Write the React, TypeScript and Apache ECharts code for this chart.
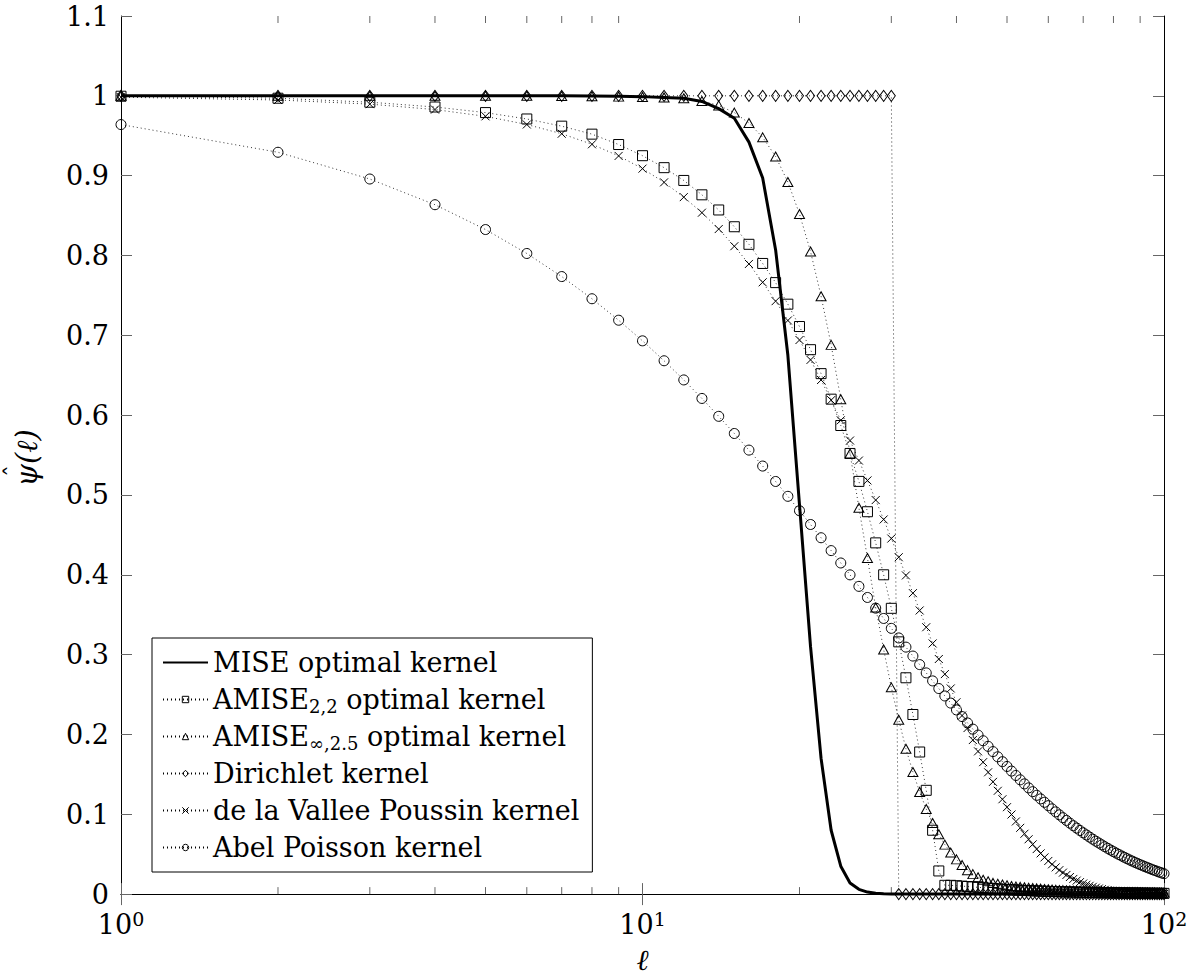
import React, { useEffect, useRef } from "react";
import * as echarts from "echarts";

const ells = Array.from({ length: 100 }, (_, i) => i + 1);

const miseVals = [
  1, 1, 1, 1, 1, 1, 1, 0.9998, 0.9995, 0.999,
  0.998, 0.997, 0.993, 0.984, 0.972, 0.942, 0.897, 0.807, 0.675, 0.488,
  0.31, 0.17, 0.08, 0.035, 0.014, 0.006, 0.0025, 0.001, 0.0005, 0.0002,
  0, 0, 0, 0, 0, 0, 0, 0, 0, 0,
  0, 0, 0, 0, 0, 0, 0, 0, 0, 0,
  0, 0, 0, 0, 0, 0, 0, 0, 0, 0,
  0, 0, 0, 0, 0, 0, 0, 0, 0, 0,
  0, 0, 0, 0, 0, 0, 0, 0, 0, 0,
  0, 0, 0, 0, 0, 0, 0, 0, 0, 0,
  0, 0, 0, 0, 0, 0, 0, 0, 0, 0,
];

const amise22Vals = [
  0.9995, 0.997, 0.992, 0.986, 0.979, 0.971, 0.962, 0.952, 0.939, 0.925,
  0.91, 0.894, 0.876, 0.857, 0.836, 0.814, 0.79, 0.766, 0.739, 0.711,
  0.682, 0.652, 0.62, 0.587, 0.552, 0.517, 0.479, 0.44, 0.4, 0.358,
  0.316, 0.271, 0.225, 0.178, 0.13, 0.08, 0.029, 0.011, 0.011, 0.0105,
  0.01, 0.0095, 0.009, 0.0085, 0.008, 0.0075, 0.007, 0.0066, 0.0062, 0.0058,
  0.0055, 0.0052, 0.0049, 0.0046, 0.0044, 0.0042, 0.004, 0.0038, 0.0036, 0.0034,
  0.0032, 0.0031, 0.003, 0.0029, 0.0028, 0.0027, 0.0026, 0.0025, 0.0024, 0.0023,
  0.0022, 0.0021, 0.002, 0.002, 0.0019, 0.0018, 0.0018, 0.0017, 0.0017, 0.0016,
  0.0016, 0.0015, 0.0015, 0.0014, 0.0014, 0.0014, 0.0013, 0.0013, 0.0012, 0.0012,
  0.0012, 0.0011, 0.0011, 0.0011, 0.001, 0.001, 0.001, 0.001, 0.0009, 0.0009,
];

const amiseInfVals = [
  1, 1, 1, 1, 1, 1, 0.9998, 0.9995, 0.999, 0.9985,
  0.998, 0.997, 0.9935, 0.988, 0.979, 0.966, 0.948, 0.924, 0.892, 0.852,
  0.805, 0.749, 0.688, 0.62, 0.552, 0.484, 0.421, 0.359, 0.3065, 0.259,
  0.2185, 0.182, 0.153, 0.128, 0.1065, 0.089, 0.075, 0.062, 0.052, 0.0435,
  0.0365, 0.03, 0.025, 0.021, 0.018, 0.016, 0.014, 0.013, 0.012, 0.011,
  0.0102, 0.0095, 0.009, 0.0085, 0.008, 0.0076, 0.0072, 0.0068, 0.0064, 0.006,
  0.0057, 0.0054, 0.0052, 0.005, 0.0048, 0.0046, 0.0044, 0.0042, 0.004, 0.0038,
  0.0037, 0.0036, 0.0035, 0.0034, 0.0033, 0.0032, 0.0031, 0.003, 0.003, 0.0029,
  0.0028, 0.0028, 0.0027, 0.0026, 0.0026, 0.0025, 0.0025, 0.0024, 0.0024, 0.0023,
  0.0023, 0.0022, 0.0022, 0.0022, 0.0021, 0.0021, 0.002, 0.002, 0.002, 0.002,
];

const dirichletVals = [
  1, 1, 1, 1, 1, 1, 1, 1, 1, 1,
  1, 1, 1, 1, 1, 1, 1, 1, 1, 1,
  1, 1, 1, 1, 1, 1, 1, 1, 1, 1,
  0, 0, 0, 0, 0, 0, 0, 0, 0, 0,
  0, 0, 0, 0, 0, 0, 0, 0, 0, 0,
  0, 0, 0, 0, 0, 0, 0, 0, 0, 0,
  0, 0, 0, 0, 0, 0, 0, 0, 0, 0,
  0, 0, 0, 0, 0, 0, 0, 0, 0, 0,
  0, 0, 0, 0, 0, 0, 0, 0, 0, 0,
  0, 0, 0, 0, 0, 0, 0, 0, 0, 0,
];

const poussinVals = [
  0.9983, 0.9948, 0.9896, 0.9828, 0.9743, 0.9641, 0.9525, 0.9393, 0.9247, 0.9088,
  0.8916, 0.8731, 0.8536, 0.8331, 0.8116, 0.7894, 0.7664, 0.7428, 0.7186, 0.6941,
  0.6692, 0.644, 0.6188, 0.5935, 0.5682, 0.5431, 0.5182, 0.4936, 0.4693, 0.4454,
  0.422, 0.3992, 0.377, 0.3553, 0.3343, 0.314, 0.2945, 0.2756, 0.2576, 0.2403,
  0.2237, 0.208, 0.193, 0.1788, 0.1653, 0.1526, 0.1406, 0.1294, 0.1188, 0.1089,
  0.0997, 0.091, 0.083, 0.0756, 0.0687, 0.0623, 0.0564, 0.051, 0.046, 0.0415,
  0.0373, 0.0335, 0.03, 0.0269, 0.024, 0.0214, 0.019, 0.0169, 0.015, 0.0133,
  0.0117, 0.0104, 0.0091, 0.008, 0.007, 0.0062, 0.0054, 0.0047, 0.0041, 0.0036,
  0.0031, 0.0027, 0.0023, 0.002, 0.0017, 0.0015, 0.0013, 0.0011, 0.0009, 0.0008,
  0.0007, 0.0006, 0.0005, 0.0004, 0.0004, 0.0003, 0.0003, 0.0002, 0.0002, 0.0002,
];

const abelVals = [
  0.964, 0.9293, 0.8958, 0.8636, 0.8325, 0.8025, 0.7736, 0.7458, 0.7189, 0.6931,
  0.6681, 0.6441, 0.6209, 0.5985, 0.577, 0.5562, 0.5362, 0.5169, 0.4983, 0.4803,
  0.463, 0.4464, 0.4303, 0.4148, 0.3999, 0.3855, 0.3716, 0.3582, 0.3453, 0.3329,
  0.3209, 0.3094, 0.2982, 0.2875, 0.2771, 0.2671, 0.2575, 0.2482, 0.2393, 0.2307,
  0.2224, 0.2144, 0.2067, 0.1992, 0.1921, 0.1851, 0.1785, 0.172, 0.1659, 0.1599,
  0.1541, 0.1486, 0.1432, 0.1381, 0.1331, 0.1283, 0.1237, 0.1193, 0.115, 0.1108,
  0.1068, 0.103, 0.0993, 0.0957, 0.0923, 0.0889, 0.0857, 0.0827, 0.0797, 0.0768,
  0.0741, 0.0714, 0.0688, 0.0663, 0.064, 0.0617, 0.0594, 0.0573, 0.0552, 0.0532,
  0.0513, 0.0495, 0.0477, 0.046, 0.0443, 0.0427, 0.0412, 0.0397, 0.0383, 0.0369,
  0.0356, 0.0343, 0.0331, 0.0319, 0.0307, 0.0296, 0.0286, 0.0275, 0.0265, 0.0256,
];

const minorTickVals = [2, 3, 4, 5, 6, 7, 8, 9, 20, 30, 40, 50, 60, 70, 80, 90];

const seriesNames = [
  "MISE optimal kernel",
  "AMISE22",
  "AMISEinf",
  "Dirichlet kernel",
  "de la Vallee Poussin kernel",
  "Abel Poisson kernel",
];

const legendLabels: Record<string, string> = {
  "MISE optimal kernel": "MISE optimal kernel",
  AMISE22: "AMISE{sub|2,2} optimal kernel",
  AMISEinf: "AMISE{sub|∞,2.5} optimal kernel",
  "Dirichlet kernel": "Dirichlet kernel",
  "de la Vallee Poussin kernel": "de la Vallee Poussin kernel",
  "Abel Poisson kernel": "Abel Poisson kernel",
};

const FONT = "DejaVu Serif";
const CROSS = "path://M0 0L10 10M10 0L0 10";

function pairs(vals: number[]) {
  return ells.map((l, i) => [l, vals[i]]);
}

export default function App() {
  const ref = useRef<HTMLDivElement>(null);
  useEffect(() => {
    document.body.style.margin = "0";
    if (!ref.current) return;
    const chart = echarts.init(ref.current, undefined, { renderer: "svg" });
    const dotted = { color: "#000", width: 0.8, type: [1, 3] as any };
    const hollow = { color: "rgba(0,0,0,0)", borderColor: "#000", borderWidth: 1 };
    const markerSeries = (name: string, vals: number[], symbol: string, size: any) => ({
      name,
      type: "line",
      data: pairs(vals),
      symbol,
      symbolSize: size,
      showSymbol: true,
      clip: false,
      lineStyle: dotted,
      itemStyle: hollow,
      emphasis: { disabled: true },
    });
    const tickStyle = { color: "#666", width: 1 };
    const legendHollow = { color: "rgba(0,0,0,0)", borderColor: "#000", borderWidth: 1 };
    chart.setOption({
      animation: false,
      grid: { left: 121, right: 31, top: 16, bottom: 81.5, containLabel: false },
      graphic: [
        {
          type: "group",
          x: 27,
          y: 458,
          rotation: Math.PI / 2,
          children: [
            {
              type: "text",
              x: 0,
              y: 0,
              style: {
                text: "ψ(ℓ)",
                fontFamily: FONT,
                fontSize: 29,
                fontStyle: "italic",
                fill: "#000",
                align: "center",
                verticalAlign: "middle",
              },
            },
            {
              type: "text",
              x: -13,
              y: -13,
              style: {
                text: "ˆ",
                fontFamily: FONT,
                fontSize: 24,
                fill: "#000",
                align: "center",
                verticalAlign: "middle",
              },
            },
          ],
        },
      ],
      xAxis: [
        {
          type: "log",
          logBase: 10,
          min: 1,
          max: 100,
          interval: 1,
          axisLine: { show: true, lineStyle: { color: "#000", width: 1 } },
          axisTick: { show: true, inside: true, length: 11, lineStyle: tickStyle },
          splitLine: { show: false },
          minorTick: { show: false },
          axisLabel: {
            margin: 15,
            color: "#000",
            fontFamily: FONT,
            fontSize: 27,
            lineHeight: 31,
            formatter: (v: number) => `10{sup|${Math.round(Math.log10(v))}}`,
            rich: {
              sup: { fontSize: 19, lineHeight: 16, verticalAlign: "top", fontFamily: FONT, color: "#000" },
            },
          },
          name: "ℓ",
          nameLocation: "middle",
          nameGap: 44,
          nameTextStyle: { fontFamily: FONT, fontSize: 29, fontStyle: "italic", color: "#000" },
        },
        {
          type: "log",
          logBase: 10,
          min: 1,
          max: 100,
          interval: 1,
          position: "top",
          axisLine: { show: true, lineStyle: { color: "#000", width: 1 } },
          axisTick: { show: true, inside: true, length: 11, lineStyle: tickStyle },
          axisLabel: { show: false },
          splitLine: { show: false },
        },
      ],
      yAxis: [
        {
          type: "value",
          min: 0,
          max: 1.1,
          interval: 0.1,
          axisLine: { show: true, lineStyle: { color: "#000", width: 1 } },
          axisTick: { show: true, inside: true, length: 11, lineStyle: tickStyle },
          splitLine: { show: false },
          axisLabel: { margin: 12, color: "#000", fontFamily: FONT, fontSize: 27 },
        },
        {
          type: "value",
          min: 0,
          max: 1.1,
          interval: 0.1,
          position: "right",
          axisLine: { show: true, lineStyle: { color: "#000", width: 1 } },
          axisTick: { show: true, inside: true, length: 11, lineStyle: tickStyle },
          axisLabel: { show: false },
          splitLine: { show: false },
        },
      ],
      legend: {
        data: seriesNames.map((n, i) => ({
          name: n,
          itemStyle: i === 0 ? { color: "rgba(0,0,0,0)", borderWidth: 0 } : legendHollow,
        })),
        orient: "vertical",
        left: 152,
        top: 638,
        padding: [9, 13, 9, 10],
        itemGap: 6,
        itemWidth: 45,
        itemHeight: 8,
        backgroundColor: "#fff",
        borderColor: "#000",
        borderWidth: 1,
        borderRadius: 0,
        selectedMode: false,
        formatter: (name: string) => legendLabels[name] || name,
        textStyle: {
          fontFamily: FONT,
          fontSize: 27,
          lineHeight: 31,
          color: "#000",
          rich: {
            sub: { fontFamily: FONT, fontSize: 18, lineHeight: 17, verticalAlign: "bottom", color: "#000" },
          },
        },
      },
      series: [
        {
          type: "custom",
          silent: true,
          data: minorTickVals.map((v) => [v, 0]),
          encode: { x: 0, y: 1 },
          clip: false,
          renderItem: (params: any, api: any) => {
            const v = api.value(0);
            const b = api.coord([v, 0]);
            const t = api.coord([v, 1.1]);
            const st = { stroke: "#666", lineWidth: 1 };
            return {
              type: "group",
              children: [
                { type: "line", shape: { x1: b[0], y1: b[1], x2: b[0], y2: b[1] - 7 }, style: st },
                { type: "line", shape: { x1: t[0], y1: t[1], x2: t[0], y2: t[1] + 7 }, style: st },
              ],
            };
          },
        },
        {
          name: seriesNames[0],
          type: "line",
          data: pairs(miseVals),
          symbol: "none",
          clip: false,
          lineStyle: { color: "#000", width: 3 },
          itemStyle: { color: "rgba(0,0,0,0)", borderWidth: 0 },
          emphasis: { disabled: true },
          z: 5,
        },
        markerSeries(seriesNames[1], amise22Vals, "rect", 10),
        markerSeries(seriesNames[2], amiseInfVals, "triangle", [10, 9]),
        markerSeries(seriesNames[3], dirichletVals, "diamond", [8, 11]),
        markerSeries(seriesNames[4], poussinVals, CROSS, 8),
        markerSeries(seriesNames[5], abelVals, "circle", 10),
      ],
    });
    return () => chart.dispose();
  }, []);
  return <div ref={ref} style={{ width: 1195, height: 979 }} />;
}
